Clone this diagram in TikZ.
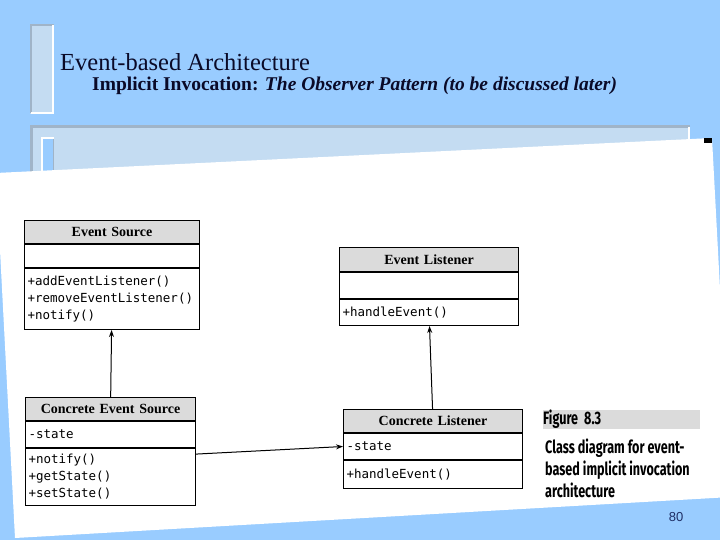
\documentclass[tikz,border=0pt]{standalone}
\usepackage{fontspec}
\setmainfont{Liberation Serif}
\newfontfamily\umlmono{DejaVu Sans Mono}
\newfontfamily\capfont[FakeStretch=0.7]{Fira Sans}
\newfontfamily\numfont{Liberation Sans}
\usetikzlibrary{arrows.meta, positioning}
\definecolor{slidebg}{HTML}{99CCFF}
\definecolor{panelc}{HTML}{C4DCF2}
\definecolor{bevc}{HTML}{A0B4C8}
\definecolor{titlec}{HTML}{0A0A28}
\definecolor{numc}{HTML}{1F2F66}
\newcommand{\umlclass}[9]{%
  \node[umlhead, text width=#3, minimum height=#5, anchor=north west] (#1h) at #2 {#4};
  \node[umlpart, text width=#3, minimum height=#7, below=0pt of #1h] (#1a) {#6};
  \node[umlpart, text width=#3, minimum height=#9, below=0pt of #1a] (#1m) {#8};
}

\begin{document}
\begin{tikzpicture}[x=1pt, y=-1pt, >=Stealth,
    umlhead/.style={draw, fill=black!14, line width=1pt, inner xsep=3pt,
      inner ysep=2pt, align=center, font=\fontsize{14}{16}\selectfont\bfseries},
    umlpart/.style={draw, fill=white, line width=1pt, inner xsep=3pt,
      inner ysep=2pt, align=left, font=\umlmono\fontsize{12.5}{17}\selectfont},
    umlarrow/.style={-{Stealth[length=7pt, width=5pt]}, line width=1pt},
    captext/.style={font=\capfont\bfseries\fontsize{18}{22}\selectfont, inner sep=0pt}]
  \useasboundingbox (0,0) rectangle (720,540);
  \clip (0,0) rectangle (720,540);
  % slide background and bevelled panels
  \fill[slidebg] (0,0) rectangle (720,540);
  \fill[panelc] (30,24) rectangle (54,114);
  \draw[bevc, line width=2pt] (31,113) -- (31,25) -- (54,25);
  \draw[white, line width=2pt] (53,25) -- (53,113) -- (31,113);
  \fill[panelc] (30,125) rectangle (690,490);
  \draw[bevc, line width=3pt] (31.5,490) -- (31.5,126.5) -- (690,126.5);
  \draw[white, line width=2pt] (689,127) -- (689,490);
  \fill[slidebg] (41,137) rectangle (54,220);
  \draw[white, line width=2pt] (42,220) -- (42,138) -- (54,138);
  \draw[bevc, line width=1.5pt] (53.5,139) -- (53.5,220);
  % scanned page
  \fill[white] (-4,173) -- (712,138) -- (731,497) -- (15,538) -- cycle;
  \fill[black] (704,138) rectangle (712,143);
  % title
  \node[font=\fontsize{24.5}{28}\selectfont, text=titlec, anchor=base west,
        inner sep=0pt, text depth=0pt] (title) at (60,71) {Event-based Architecture};
  \node[font=\fontsize{19.5}{22}\selectfont\bfseries, text=titlec, anchor=base west,
        inner sep=0pt, text height=13pt] (subtitle) at (92,91)
        {Implicit Invocation: \textit{The Observer Pattern (to be discussed later)}};
  % class diagram
  \umlclass{evsrc}{(24,220)}{169pt}{Event Source}{23pt}{}{23pt}%
    {+addEventListener()\\+removeEventListener()\\+notify()}{61pt}
  \umlclass{csrc}{(25,397)}{164pt}{Concrete Event Source}{23pt}{-state}{26pt}%
    {+notify()\\+getState()\\+setState()}{57pt}
  \umlclass{evlis}{(339,247)}{173pt}{Event Listener}{24pt}{}{26pt}%
    {+handleEvent()}{26pt}
  \umlclass{clis}{(343,409)}{173pt}{Concrete Listener}{23pt}{-state}{26pt}%
    {+handleEvent()}{28pt}
  \foreach \a/\b in {csrch/evsrcm, clish/evlism}
    \draw[umlarrow] (\a) -- (\b);
  \draw[umlarrow] (csrcm.15) -- (clisa.west);
  % caption
  \node[captext, fill=black!14, text width=157pt, minimum height=18pt,
        anchor=north west] (figlabel) at (543,410) {Figure 8.3};
  \foreach \t [count=\i] in {Class diagram for event-, based implicit invocation, architecture}
    \node[captext, anchor=base west] (cap\i) at (545,431+22*\i) {\t};
  \node[font=\numfont\fontsize{13}{15}\selectfont, text=numc, anchor=base]
    (pagenum) at (676,521) {80};
\end{tikzpicture}
\end{document}
